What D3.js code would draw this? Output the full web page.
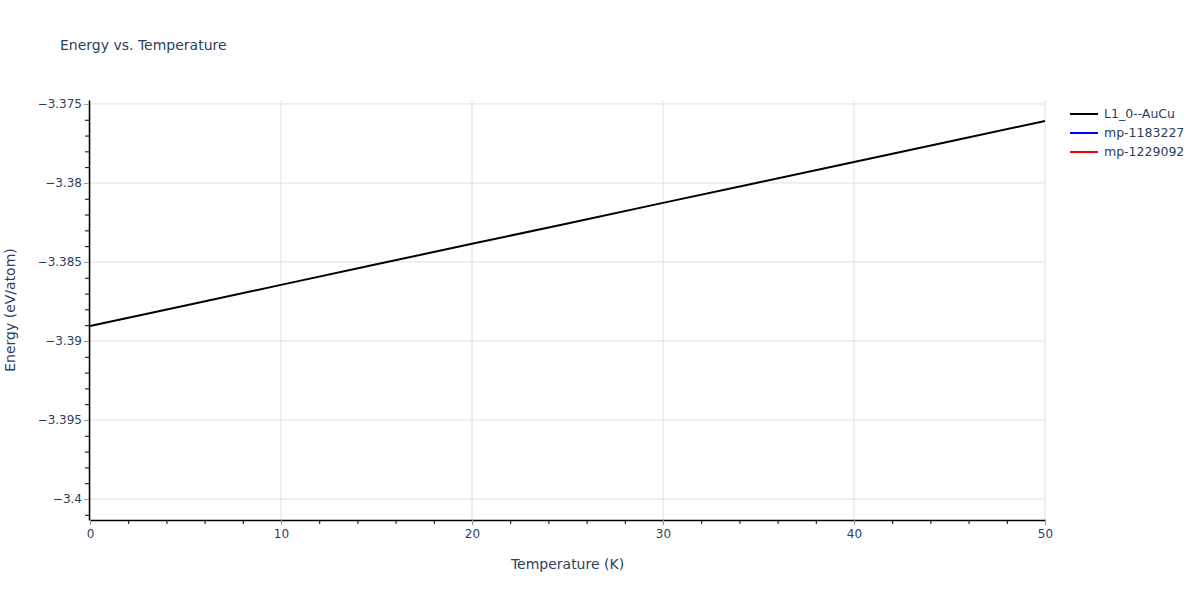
<!DOCTYPE html>
<html>
<head>
<meta charset="utf-8">
<script src="https://cdn.jsdelivr.net/npm/d3@7"></script>
<style>
  body { margin: 0; background: #fff; }
  text { font-family: "DejaVu Sans", verdana, arial, sans-serif; fill: #2a3f5f; }
</style>
</head>
<body>
<div id="chart"></div>
<script>
// ---- data ----
const temps = [0, 5, 10, 15, 20, 25, 30, 35, 40, 45, 50]
const energyL10 = [-3.38905, -3.38775, -3.38645, -3.38515, -3.38385, -3.38256, -3.38126, -3.37997, -3.37867, -3.37737, -3.37608]
const energyMp1183227 = []
const energyMp1229092 = []
const seriesNames = ["L1_0--AuCu", "mp-1183227", "mp-1229092"]
const seriesColors = ["#000000", "#0000ff", "#ff0000"]
const xTicks = [0, 10, 20, 30, 40, 50]
const yTicks = [-3.375, -3.38, -3.385, -3.39, -3.395, -3.4]

const width = 1200
const height = 600
const margin = { top: 100, right: 155, bottom: 80, left: 90 }

const svg = d3.select("#chart")
  .append("svg")
  .attr("width", width)
  .attr("height", height)

const x = d3.scaleLinear()
  .domain([0, 50])
  .range([margin.left, width - margin.right])

const y = d3.scaleLinear()
  .domain([-3.40133, -3.37475])
  .range([height - margin.bottom, margin.top])

const fmt = v => {
  let s = d3.format("")(+v.toFixed(4))
  return s.replace("-", "\u2212")
}

// grid
svg.append("g").selectAll("line")
  .data(xTicks)
  .join("line")
  .attr("x1", d => x(d)).attr("x2", d => x(d))
  .attr("y1", margin.top).attr("y2", height - margin.bottom)
  .attr("stroke", "#e0e0e0").attr("stroke-width", 1)

svg.append("g").selectAll("line")
  .data(yTicks)
  .join("line")
  .attr("x1", margin.left).attr("x2", width - margin.right)
  .attr("y1", d => y(d)).attr("y2", d => y(d))
  .attr("stroke", "#e0e0e0").attr("stroke-width", 1)

// minor ticks
const xMinor = d3.range(0, 50.01, 2).filter(v => v % 10 !== 0)
const yMinor = d3.range(-3.401, -3.3749, 0.001).filter(v => Math.abs(Math.round(v * 200) - v * 200) > 0.01)

svg.append("g")
  .attr("transform", "translate(0," + (height - margin.bottom) + ")")
  .call(d3.axisBottom(x).tickValues(xMinor).tickSize(4).tickFormat(""))
  .call(g => g.select(".domain").remove())
  .call(g => g.selectAll("line").attr("stroke", "#000"))

svg.append("g")
  .attr("transform", "translate(" + (margin.left - 1) + ",0)")
  .call(d3.axisLeft(y).tickValues(yMinor).tickSize(4).tickFormat(""))
  .call(g => g.select(".domain").remove())
  .call(g => g.selectAll("line").attr("stroke", "#000"))

// major axes
const xAxis = svg.append("g")
  .attr("transform", "translate(0," + (height - margin.bottom) + ")")
  .call(d3.axisBottom(x).tickValues(xTicks).tickSize(5).tickSizeOuter(0).tickPadding(4).tickFormat(d3.format("d")))
xAxis.select(".domain").attr("stroke", "#000").attr("stroke-width", 1.5)
xAxis.selectAll(".tick line").attr("stroke", "#999")
xAxis.selectAll("text").style("font-size", "12px").style("fill", "#2a3f5f").attr("font-family", null)

const yAxis = svg.append("g")
  .attr("transform", "translate(" + (margin.left - 1) + ",0)")
  .call(d3.axisLeft(y).tickValues(yTicks).tickSize(5).tickSizeOuter(0).tickPadding(2).tickFormat(fmt))
yAxis.select(".domain").attr("stroke", "#000").attr("stroke-width", 1.5)
yAxis.selectAll(".tick line").attr("stroke", "#999")
yAxis.selectAll("text").style("font-size", "12px").style("fill", "#2a3f5f").attr("font-family", null)

// lines
const line = d3.line()
  .x((d, i) => x(temps[i]))
  .y(d => y(d))

const seriesData = [energyL10, energyMp1183227, energyMp1229092]
seriesData.forEach((s, k) => {
  if (s.length === 0) return
  svg.append("path")
    .datum(s)
    .attr("fill", "none")
    .attr("stroke", seriesColors[k])
    .attr("stroke-width", 2)
    .attr("d", line)
})

// title
svg.append("text")
  .attr("x", 60)
  .attr("y", 50)
  .style("font-size", "14px")
  .text("Energy vs. Temperature")

// axis titles
svg.append("text")
  .attr("x", (margin.left + width - margin.right) / 2)
  .attr("y", 569)
  .attr("text-anchor", "middle")
  .style("font-size", "14px")
  .text("Temperature (K)")

svg.append("text")
  .attr("transform", "rotate(-90)")
  .attr("x", -310)
  .attr("y", 15)
  .attr("text-anchor", "middle")
  .style("font-size", "14px")
  .text("Energy (eV/atom)")

// legend
const legend = svg.append("g")
seriesNames.forEach((n, k) => {
  const ly = 114 + k * 19
  legend.append("line")
    .attr("x1", 1070).attr("x2", 1098)
    .attr("y1", ly).attr("y2", ly)
    .attr("stroke", seriesColors[k])
    .attr("stroke-width", 2)
  legend.append("text")
    .attr("x", 1104)
    .attr("y", ly + 4)
    .style("font-size", "12.5px")
    .text(n)
})
</script>
</body>
</html>
